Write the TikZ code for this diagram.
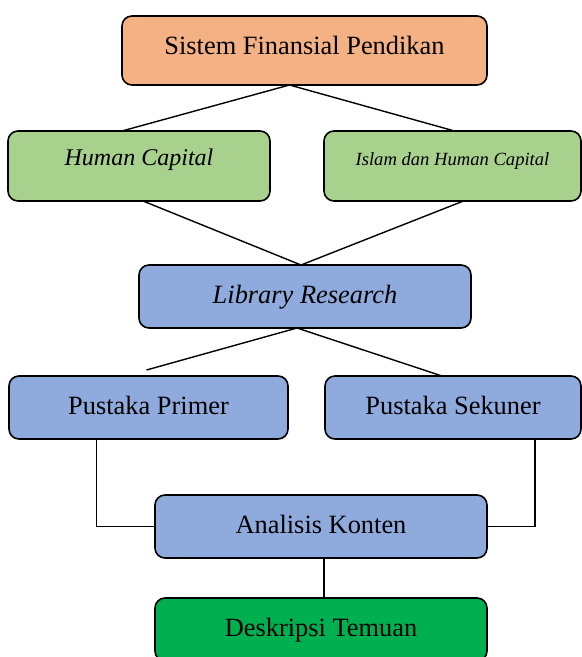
\documentclass[tikz,border=0pt]{standalone}
\usepackage{fontspec}
\setmainfont{Liberation Serif}
\usetikzlibrary{positioning}
\definecolor{kotakjingga}{HTML}{F4B183}
\definecolor{kotakhijau}{HTML}{A9D18E}
\definecolor{kotakbiru}{HTML}{8FAADC}
\definecolor{kotaktua}{HTML}{00B050}

\begin{document}
\begin{tikzpicture}[
  x=0.5pt, y=-0.5pt,
  font=\fontsize{13.2}{15.8}\selectfont,
  box/.style={draw, line width=0.8pt, rounded corners=5pt, align=center,
              outer sep=0pt, inner sep=2pt, minimum height=31.5pt,
              text height=9.5pt, text depth=3pt},
  hijau/.style={box, fill=kotakhijau, minimum height=35pt,
                text height=8pt, text depth=8.5pt},
  lnk/.style={line width=0.7pt}
]
\useasboundingbox (0,0) rectangle (582,657);

\node[box, fill=kotakjingga, minimum width=182.5pt, minimum height=34.5pt,
      text depth=5.8pt] (sfp) at (304.5,50.5) {Sistem Finansial Pendikan};
\node[hijau, minimum width=131pt] (hc) at (139,166)
  {\fontsize{12}{14}\selectfont\itshape Human Capital};
\node[hijau, minimum width=128.5pt, right=27pt of hc] (ihc)
  {\fontsize{9.3}{11}\selectfont\itshape Islam dan Human Capital};
\node[box, fill=kotakbiru, minimum width=166pt] (lr) at (305,296.5)
  {\itshape Library Research};
\node[box, fill=kotakbiru, minimum width=139.5pt] (pp) at (148.5,407.5)
  {Pustaka Primer};
\node[box, fill=kotakbiru, minimum width=128pt, right=18.5pt of pp] (ps)
  {Pustaka Sekuner};
\node[box, fill=kotakbiru, minimum width=166pt] (ak) at (321,526.5)
  {Analisis Konten};
\node[box, fill=kotaktua, minimum width=166pt, below=20pt of ak] (dt)
  {Deskripsi Temuan};

\draw[lnk] ([xshift=-7.5pt]sfp.south) -- ([xshift=-8.5pt]hc.north);
\draw[lnk] ([xshift=-7.5pt]sfp.south) -- ([xshift=1pt]ihc.north);
\draw[lnk] ([xshift=2pt]hc.south) -- ([xshift=-2pt]lr.north);
\draw[lnk] ([xshift=5.5pt]ihc.south) -- ([xshift=-2pt]lr.north);
\draw[lnk] ([xshift=-4pt]lr.south) -- ([xshift=-1pt,yshift=3pt]pp.north);
\draw[lnk] ([xshift=-4pt]lr.south) -- ([xshift=-5.5pt]ps.north);
\draw[lnk] ([xshift=-26pt]pp.south) |- (ak.west);
\draw[lnk] ([xshift=41pt]ps.south) |- (ak.east);
\draw[lnk] ([xshift=1.5pt]ak.south) -- ([xshift=1.5pt]dt.north);
\end{tikzpicture}
\end{document}
